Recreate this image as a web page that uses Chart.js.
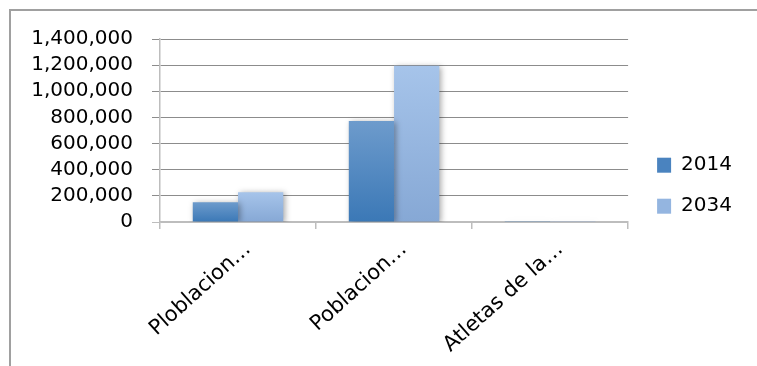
<!DOCTYPE html>
<html>
<head>
<meta charset="utf-8">
<script src="https://cdn.jsdelivr.net/npm/chart.js@4/dist/chart.umd.min.js"></script>
<style>
html,body{margin:0;padding:0;background:#fff;}
#wrap{width:757px;height:366px;position:relative;}
</style>
</head>
<body>
<div id="wrap"><canvas id="c" width="757" height="366"></canvas></div>
<script>
const categories = ["Ploblacion\u2026", "Poblacion\u2026", "Atletas de la\u2026"];
const seriesNames = ["2014", "2034"];
const values2014 = [152000, 772000, 5000];
const values2034 = [228000, 1196000, 5000];
const yTicks = [0, 200000, 400000, 600000, 800000, 1000000, 1200000, 1400000];

const FONT = "'DejaVu Sans', sans-serif";
const grads = [["#6d9bcc", "#3b78b6"], ["#a6c4ea", "#86a8d5"]];
const solid = ["#4a83bf", "#94b5e0"];

function barGradient(ctx, idx) {
  const chart = ctx.chart;
  const ys = chart.scales && chart.scales.y;
  if (!ys || ctx.parsed === undefined || ctx.parsed.y === undefined) return solid[idx];
  const top = ys.getPixelForValue(ctx.parsed.y);
  const base = ys.getPixelForValue(0);
  if (!isFinite(top) || !isFinite(base) || base - top < 1) return grads[idx][1];
  const g = chart.ctx.createLinearGradient(0, top, 0, base);
  g.addColorStop(0, grads[idx][0]);
  g.addColorStop(1, grads[idx][1]);
  return g;
}

const frame = {
  id: 'frame',
  beforeDraw(chart) {
    const c = chart.ctx;
    c.save();
    c.fillStyle = '#ffffff';
    c.fillRect(0, 0, chart.width, chart.height);
    c.strokeStyle = '#a0a0a0';
    c.lineWidth = 2;
    c.beginPath();
    c.moveTo(10, 366); c.lineTo(10, 10); c.lineTo(757, 10);
    c.stroke();
    c.restore();
  }
};
const shadow = {
  id: 'shadow',
  beforeDatasetsDraw(chart) {
    const c = chart.ctx;
    c.save();
    c.shadowColor = 'rgba(0,0,0,0.35)';
    c.shadowBlur = 6;
    c.shadowOffsetX = 2;
    c.shadowOffsetY = 1;
  },
  afterDatasetsDraw(chart) { chart.ctx.restore(); }
};

new Chart(document.getElementById('c'), {
  type: 'bar',
  data: {
    labels: categories,
    datasets: [
      { label: seriesNames[0], data: values2014, backgroundColor: (ctx) => barGradient(ctx, 0), borderWidth: 0 },
      { label: seriesNames[1], data: values2034, backgroundColor: (ctx) => barGradient(ctx, 1), borderWidth: 0 }
    ]
  },
  options: {
    responsive: false,
    animation: false,
    devicePixelRatio: 1,
    layout: { padding: { left: 0, top: 39, right: 15, bottom: 0 } },
    datasets: { bar: { barPercentage: 1.0, categoryPercentage: 0.58 } },
    plugins: {
      tooltip: { enabled: false },
      legend: {
        position: 'right',
        align: 'start',
        title: { display: true, text: ' ', font: { size: 1 }, padding: { top: 0, bottom: 94 } },
        labels: {
          font: { family: FONT, size: 20 },
          color: '#000',
          boxWidth: 14,
          boxHeight: 15,
          padding: 21,
          generateLabels(chart) {
            return chart.data.datasets.map((ds, i) => ({
              text: ds.label, fillStyle: solid[i], strokeStyle: solid[i], lineWidth: 0,
              hidden: false, datasetIndex: i, fontColor: '#000'
            }));
          }
        }
      }
    },
    scales: {
      x: {
        grid: { offset: true, drawOnChartArea: false, drawTicks: true, tickLength: 7, color: '#bdbdbd', lineWidth: 1.5 },
        border: { color: '#bdbdbd', width: 1.5 },
        ticks: { font: { family: FONT, size: 21 }, color: '#000', minRotation: 42, maxRotation: 42, autoSkip: false, padding: 8, labelOffset: 10 },
        afterFit(s) { s.height = 366 - 222; }
      },
      y: {
        min: 0, max: 1400000,
        afterBuildTicks(s) { s.ticks = yTicks.map(v => ({ value: v })); },
        grid: {
          color: (ctx) => (ctx.tick && ctx.tick.value === 0) ? '#bdbdbd' : '#8c8c8c',
          tickLength: 8, lineWidth: 1
        },
        border: { color: '#bdbdbd', width: 1.5 },
        ticks: {
          font: { family: FONT, size: 20 }, color: '#000', padding: 19, autoSkip: false,
          callback: (v) => Number(v).toLocaleString('en-US')
        },
        afterFit(s) { s.width = 160; }
      },
      yR: {
        type: 'linear', position: 'right', display: true,
        grid: { display: false }, border: { display: false }, ticks: { display: false },
        afterFit(s) { s.width = 8; }
      }
    }
  },
  plugins: [frame, shadow]
});
</script>
</body>
</html>
